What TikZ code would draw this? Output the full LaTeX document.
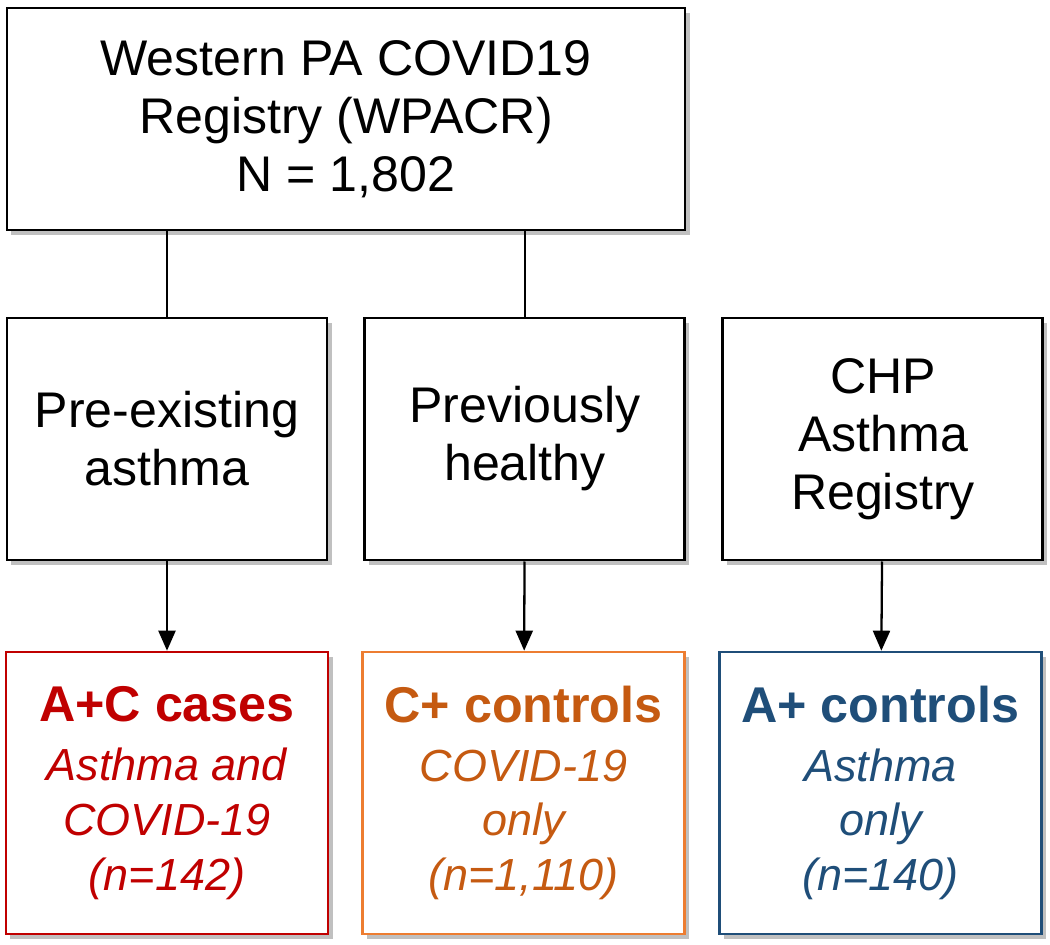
\documentclass[tikz,border=0pt]{standalone}
\usepackage{fontspec}
\setmainfont{Liberation Sans}
\usepackage{tikz}
\usetikzlibrary{arrows.meta, positioning, shadows}
\definecolor{casered}{RGB}{192,0,0}
\definecolor{ctrlorange}{RGB}{197,90,17}
\definecolor{ctrlorangeln}{RGB}{237,125,49}
\definecolor{ctrlblue}{RGB}{31,78,121}
\tikzset{
  box/.style={rectangle, draw=black, fill=white, line width=1.7pt,
    align=center, inner sep=0pt,
    drop shadow={fill=black!45, opacity=0.55, shadow xshift=0.09cm, shadow yshift=-0.09cm},
    font=\fontsize{28.5}{33}\selectfont},
  grpbox/.style={box, minimum width=6.4cm, minimum height=4.84cm},
  outbox/.style={box, minimum width=6.44cm, minimum height=5.64cm, line width=1.5pt,
    font=\fontsize{25.6}{31.2}\selectfont\itshape},
  arrow/.style={-{Triangle[width=0.34cm, length=0.4cm]}, line width=1.3pt},
  line/.style={line width=1.3pt}
}
\newcommand{\outtitle}[1]{\textup{\textbf{\fontsize{28.6}{31}\selectfont #1}}}
\begin{document}
\begin{tikzpicture}
  \useasboundingbox (0,0) rectangle (21,-18.9);

  \node[box, minimum width=13.56cm, minimum height=4.44cm] (wpacr) at (6.92,-2.38)
    {Western PA COVID19\\Registry (WPACR)\\N = 1,802};

  \node[grpbox] (asthma) at (3.34,-8.78) {Pre-existing\\asthma};
  \node[grpbox, right=0.7cm of asthma] (healthy) {Previously\\healthy};
  \node[grpbox, right=0.7cm of healthy] (chp) {CHP\\Asthma\\Registry};

  \node[outbox, draw=casered, text=casered] (cases) at (3.34,-15.86)
    {\outtitle{A+C cases}\\[0.08cm]Asthma and\\COVID-19\\(n=142)};
  \node[outbox, draw=ctrlorangeln, text=ctrlorange, right=0.64cm of cases] (covctrl)
    {\outtitle{C+ controls}\\[0.08cm]COVID-19\\only\\(n=1,110)};
  \node[outbox, draw=ctrlblue, text=ctrlblue, right=0.64cm of covctrl] (asthctrl)
    {\outtitle{A+ controls}\\[0.08cm]Asthma\\only\\(n=140)};

  \draw[line] (wpacr.south -| asthma) -- (asthma);
  \draw[line] (wpacr.south -| healthy) -- (healthy);

  \draw[arrow] (asthma) -- (cases);
  \draw[arrow] (healthy) -- (covctrl);
  \draw[arrow] (chp) -- (asthctrl);
\end{tikzpicture}
\end{document}
